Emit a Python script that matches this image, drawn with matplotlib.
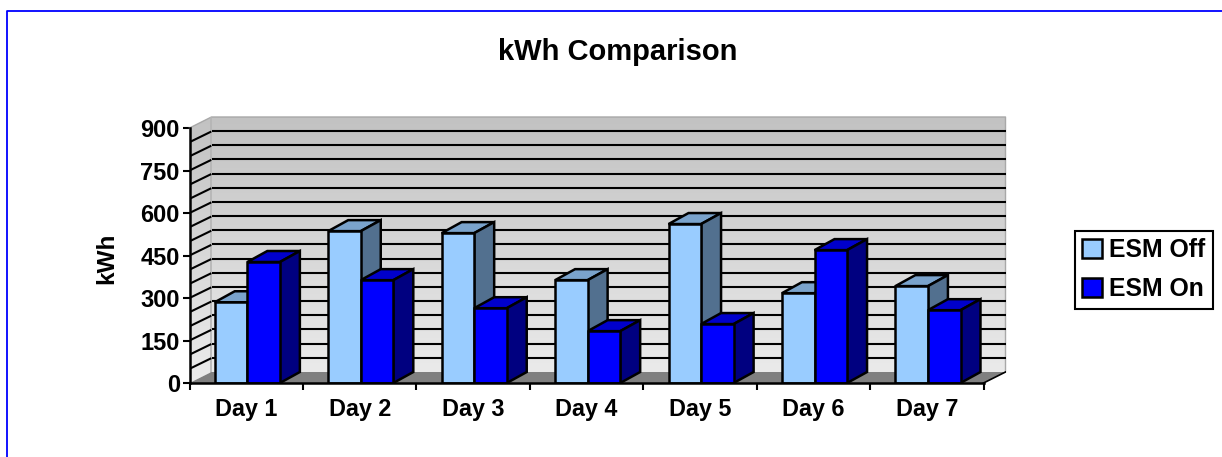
import numpy as np
import matplotlib as mpl
mpl.use('Agg')
import matplotlib.pyplot as plt
from matplotlib.lines import Line2D
from matplotlib.patches import Polygon, Patch
from matplotlib.colors import LinearSegmentedColormap

days = ['Day 1', 'Day 2', 'Day 3', 'Day 4', 'Day 5', 'Day 6', 'Day 7']
esm_off = [285, 536, 529, 363, 561, 317, 342]
esm_on = [427, 363, 264, 183, 208, 469, 257]
yticks = [0, 150, 300, 450, 600, 750, 900]

plt.rcParams['font.family'] = ['Liberation Sans', 'DejaVu Sans']
plt.rcParams['font.weight'] = 'bold'

W, H = 1222, 457
fig = plt.figure(figsize=(W / 100, H / 100), dpi=100)

# outer blue frame, only top and left show
fig.add_artist(Line2D([6.5 / W, 6.5 / W, 1], [0, (H - 10.5) / H, (H - 10.5) / H], transform=fig.transFigure,
                      color='#0000ff', lw=1.3))

# axes covers front plane plus the 3d depth
ax = fig.add_axes([189.5 / W, (H - 383) / H, 816 / W, 266 / H])
dx_wall, dy_wall = 22 / 113.7, 11 / 0.2833
dx_bar, dy_bar = 20 / 113.7, 11 / 0.2833

# walls with gradient
cmap = LinearSegmentedColormap.from_list('wall', ['#c2c2c2', '#ececec'])
grad = np.linspace(0, 1, 256).reshape(-1, 1)
back = Polygon([(dx_wall, dy_wall), (7 + dx_wall, dy_wall), (7 + dx_wall, 900 + dy_wall), (dx_wall, 900 + dy_wall)],
               closed=True, fc='none', ec='none')
side = Polygon([(0, 0), (dx_wall, dy_wall), (dx_wall, 900 + dy_wall), (0, 900)],
               closed=True, fc='none', ec='none')
for p in (back, side):
    ax.add_patch(p)
    im = ax.imshow(grad, cmap=cmap, aspect='auto', extent=(0, 7 + dx_wall, 0, 900 + dy_wall), zorder=1)
    im.set_clip_path(p)
ax.set_xlim(0, 7 + dx_wall)
ax.set_ylim(0, 900 + dy_wall)

# wall edges
ax.plot([0, dx_wall, 7 + dx_wall, 7 + dx_wall], [900, 900 + dy_wall, 900 + dy_wall, dy_wall],
        color='#a8a8a8', lw=1, zorder=2, clip_on=False)
ax.plot([dx_wall, dx_wall], [dy_wall, 900 + dy_wall], color='#b4b4b4', lw=1.2, zorder=2)

# floor
ax.add_patch(Polygon([(0, 0), (dx_wall, dy_wall), (7 + dx_wall, dy_wall), (7, 0)], closed=True,
                     fc='#808080', ec='none', zorder=2))
ax.plot([7, 7 + dx_wall], [0, dy_wall], color='black', lw=1.2, zorder=3)

# gridlines, back wall and side wall
for v in np.arange(50, 900, 50):
    ax.plot([dx_wall + 0.01, 7 + dx_wall], [v + dy_wall, v + dy_wall], color='black', lw=1.5, zorder=3)
    ax.plot([0, dx_wall - 0.01], [v, v + dy_wall - 3], color='black', lw=1.5, zorder=3)


def bar3d(x0, w, v, front, top, right):
    ax.bar(x0, v, w, align='edge', color=front, edgecolor='black', lw=1.8, zorder=5)
    ax.add_patch(Polygon([(x0, v), (x0 + dx_bar, v + dy_bar), (x0 + w + dx_bar, v + dy_bar), (x0 + w, v)],
                         closed=True, fc=top, ec='black', lw=1.8, zorder=4))
    ax.add_patch(Polygon([(x0 + w, 0), (x0 + w + dx_bar, dy_bar), (x0 + w + dx_bar, v + dy_bar), (x0 + w, v)],
                         closed=True, fc=right, ec='black', lw=1.8, zorder=4))


w = 0.287
for i in range(len(days)):
    bar3d(i + 0.51 - w, w, esm_off[i], '#99ccff', '#7aa3cc', '#52708f')
    bar3d(i + 0.51, w, esm_on[i], '#0000ff', '#0000cc', '#000080')

for s in ('top', 'right'):
    ax.spines[s].set_visible(False)
ax.spines['left'].set_bounds(0, 900)
ax.spines['bottom'].set_bounds(0, 7)
for s in ('left', 'bottom'):
    ax.spines[s].set_linewidth(1.8)
    ax.spines[s].set_zorder(6)

ax.set_yticks(yticks)
ax.set_xticks(range(8))
ax.set_xticklabels([])
ax.set_xticks(np.arange(7) + 0.5, minor=True)
ax.set_xticklabels(days, minor=True, fontsize=16.8)
ax.tick_params(axis='x', which='minor', length=0, pad=11)
ax.tick_params(axis='x', which='major', length=5, width=1.5)
ax.tick_params(axis='y', length=5, width=1.5, labelsize=17, pad=2)
ax.set_ylabel('kWh', fontsize=17.5, fontweight='bold', labelpad=0)
ax.yaxis.set_label_coords((118 - 189.5) / 816, 0.47)

fig.text(618 / W, (H - 52) / H, 'kWh Comparison', fontsize=21, fontweight='bold', ha='center', va='center')

leg = fig.legend(handles=[Patch(fc='#99ccff', ec='black', lw=1.8, label='ESM Off'),
                          Patch(fc='#0000ff', ec='black', lw=1.8, label='ESM On')],
                 loc='upper left', bbox_to_anchor=(1075 / W, (H - 231) / H), fontsize=17.8, fancybox=False,
                 framealpha=1, edgecolor='black', handlelength=0.78, handleheight=0.8, handletextpad=0.3,
                 labelspacing=0.6, borderpad=0.3, borderaxespad=0)
leg.get_frame().set_linewidth(1.5)

fig.savefig('out.png', dpi=100)
